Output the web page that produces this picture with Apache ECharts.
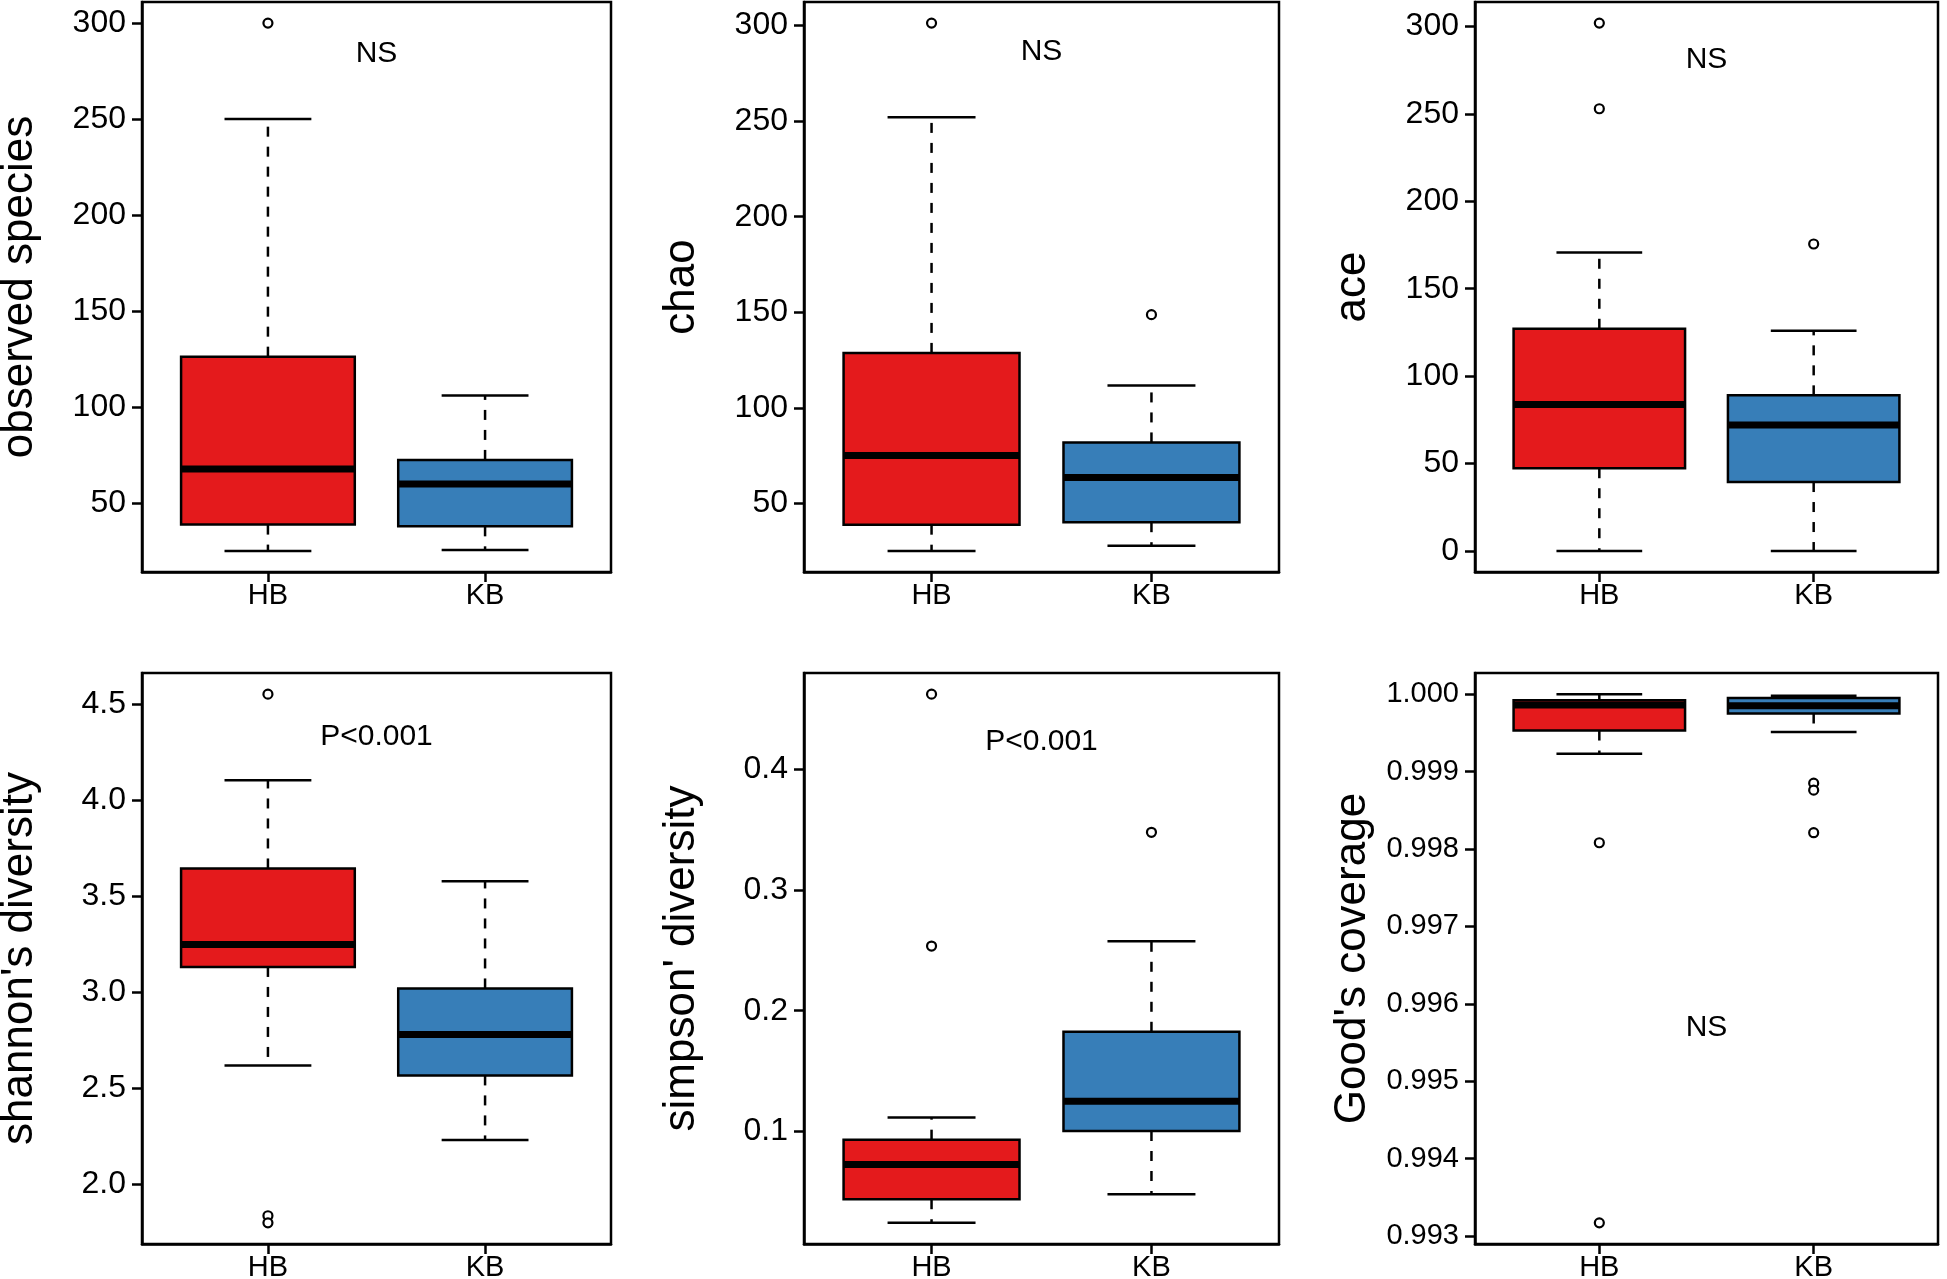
<!DOCTYPE html>
<html><head><meta charset="utf-8">
<script src="https://cdn.jsdelivr.net/npm/echarts@6/dist/echarts.min.js"></script>
<style>html,body{margin:0;padding:0;background:#fff}#c{width:1947px;height:1279px}</style>
</head><body><div id="c"></div>
<script>
// ---------- DATA ----------
const categories = ['HB', 'KB'];
// each box: [lower whisker, Q1, median, Q3, upper whisker]
const obsHB = [25, 38.7, 67.7, 126.2, 250];
const obsKB = [25.5, 37.8, 59.9, 72.4, 106];
const obsOutHB = [300];
const obsOutKB = [];
const obsTicks = [50, 100, 150, 200, 250, 300];

const chaoHB = [25.3, 39, 75.1, 128.8, 252];
const chaoKB = [28, 40.3, 63.7, 82, 111.7];
const chaoOutHB = [301.2];
const chaoOutKB = [148.8];
const chaoTicks = [50, 100, 150, 200, 250, 300];

const aceHB = [0, 47.3, 83.8, 127.1, 170.7];
const aceKB = [0, 39.4, 72, 89, 126];
const aceOutHB = [302, 253];
const aceOutKB = [175.6];
const aceTicks = [0, 50, 100, 150, 200, 250, 300];

const shanHB = [2.619, 3.133, 3.25, 3.646, 4.106];
const shanKB = [2.231, 2.568, 2.781, 3.021, 3.58];
const shanOutHB = [4.554, 1.837, 1.80];
const shanOutKB = [];
const shanTicks = [2.0, 2.5, 3.0, 3.5, 4.0, 4.5];

const simpHB = [0.024, 0.0436, 0.0724, 0.093, 0.1115];
const simpKB = [0.0477, 0.1002, 0.1249, 0.1825, 0.2576];
const simpOutHB = [0.4626, 0.2536];
const simpOutKB = [0.348];
const simpTicks = [0.1, 0.2, 0.3, 0.4];

const goodHB = [0.99923, 0.99953, 0.99986, 0.99992, 1.0000];
const goodKB = [0.99951, 0.99975, 0.99985, 0.99995, 0.99998];
const goodOutHB = [0.99808, 0.99317];
const goodOutKB = [0.99885, 0.99876, 0.99821];
const goodTicks = [0.993, 0.994, 0.995, 0.996, 0.997, 0.998, 0.999, 1.000];

const yTitles = ['observed species', 'chao', 'ace', "shannon's diversity", "simpson' diversity", "Good's coverage"];
const noteText = ['NS', 'NS', 'NS', 'P<0.001', 'P<0.001', 'NS'];
const noteY = [284, 286, 281, 4.333, 0.4232, 0.99569];

// ---------- STYLE / LAYOUT ----------
const boxColors = ['#E41A1C', '#377EB8'];
const FONT = 'Liberation Sans, Arial, Helvetica, sans-serif';
const gridPos = [
  [142, 2, 469, 570], [804, 2, 475, 570], [1475, 2, 463, 570],
  [142, 673, 469, 571], [804, 673, 475, 571], [1475, 673, 463, 571]
];
const fmts = [
  v => String(v), v => String(v), v => String(v),
  v => v.toFixed(1), v => String(+v.toFixed(1)), v => v.toFixed(3)
];

const panels = [
  { box: [obsHB, obsKB], out: [obsOutHB, obsOutKB], ticks: obsTicks },
  { box: [chaoHB, chaoKB], out: [chaoOutHB, chaoOutKB], ticks: chaoTicks },
  { box: [aceHB, aceKB], out: [aceOutHB, aceOutKB], ticks: aceTicks },
  { box: [shanHB, shanKB], out: [shanOutHB, shanOutKB], ticks: shanTicks },
  { box: [simpHB, simpKB], out: [simpOutHB, simpOutKB], ticks: simpTicks },
  { box: [goodHB, goodKB], out: [goodOutHB, goodOutKB], ticks: goodTicks }
];

function rangeOf(p) {
  const all = [].concat(p.box[0], p.box[1], p.out[0], p.out[1]);
  const lo = Math.min.apply(null, all), hi = Math.max.apply(null, all);
  const d = (hi - lo) * 0.04;
  return [lo - d, hi + d];
}

function renderBox(params, api) {
  const x = api.value(0);
  const p = [1, 2, 3, 4, 5].map(i => api.coord([x, api.value(i)]));
  const cx = p[0][0];
  const bw = api.size([0.8, 0])[0] / 2;
  const cw = api.size([0.4, 0])[0] / 2;
  const lw = 2.5;
  const blk = '#000';
  return {
    type: 'group', children: [
      { type: 'line', shape: { x1: cx, y1: p[3][1], x2: cx, y2: p[4][1] }, style: { stroke: blk, lineWidth: lw, lineDash: [10, 10] } },
      { type: 'line', shape: { x1: cx, y1: p[1][1], x2: cx, y2: p[0][1] }, style: { stroke: blk, lineWidth: lw, lineDash: [10, 10] } },
      { type: 'line', shape: { x1: cx - cw, y1: p[4][1], x2: cx + cw, y2: p[4][1] }, style: { stroke: blk, lineWidth: lw } },
      { type: 'line', shape: { x1: cx - cw, y1: p[0][1], x2: cx + cw, y2: p[0][1] }, style: { stroke: blk, lineWidth: lw } },
      { type: 'rect', shape: { x: cx - bw, y: p[3][1], width: 2 * bw, height: p[1][1] - p[3][1] }, style: { fill: boxColors[params.dataIndex], stroke: blk, lineWidth: lw } },
      { type: 'line', shape: { x1: cx - bw, y1: p[2][1], x2: cx + bw, y2: p[2][1] }, style: { stroke: blk, lineWidth: 7 } }
    ]
  };
}

const grid = [], xAxis = [], yAxis = [], series = [];
panels.forEach((p, i) => {
  const g = gridPos[i];
  grid.push({ left: g[0], top: g[1], width: g[2], height: g[3], containLabel: false, outerBoundsMode: 'none', show: true, borderColor: '#000', borderWidth: 2.5, backgroundColor: 'transparent' });
  xAxis.push({
    type: 'value', gridIndex: i, min: 0.42, max: 2.58,
    axisLine: { show: true, onZero: false, lineStyle: { color: '#000', width: 2.5 } },
    axisTick: { show: true, customValues: [1, 2], length: 10, inside: false, lineStyle: { color: '#000', width: 2.5 } },
    axisLabel: { show: true, customValues: [1, 2], formatter: v => categories[Math.round(v) - 1], fontSize: 29, fontFamily: FONT, color: '#000', margin: 9 },
    splitLine: { show: false }
  });
  const r = rangeOf(p);
  yAxis.push({
    type: 'value', gridIndex: i, min: r[0], max: r[1],
    name: yTitles[i], nameLocation: 'middle', nameRotate: 90, nameGap: 100,
    nameTextStyle: { fontSize: 44, fontFamily: FONT, color: '#000' },
    axisLine: { show: true, onZero: false, lineStyle: { color: '#000', width: 2.5 } },
    axisTick: { show: true, customValues: p.ticks, length: 10, inside: false, lineStyle: { color: '#000', width: 2.5 } },
    axisLabel: { show: true, customValues: p.ticks, formatter: fmts[i], fontSize: i === 5 ? 29 : 32, fontFamily: FONT, color: '#000', margin: 16 },
    splitLine: { show: false }
  });
  series.push({
    type: 'custom', xAxisIndex: i, yAxisIndex: i,
    data: p.box.map((b, k) => [k + 1].concat(b)),
    encode: { x: 0, y: [1, 2, 3, 4, 5] },
    renderItem: renderBox, silent: true
  });
  const outs = [];
  p.out.forEach((arr, k) => arr.forEach(v => outs.push([k + 1, v])));
  series.push({
    type: 'scatter', xAxisIndex: i, yAxisIndex: i, data: outs,
    symbol: 'circle', symbolSize: 9,
    itemStyle: { color: '#fff', borderColor: '#000', borderWidth: 2.2, opacity: 1 },
    silent: true, z: 5
  });
  series.push({
    type: 'custom', xAxisIndex: i, yAxisIndex: i,
    data: [[1.5, noteY[i]]],
    renderItem: (params, api) => {
      const c = api.coord([api.value(0), api.value(1)]);
      return { type: 'text', x: c[0], y: c[1], style: { text: noteText[i], fill: '#000', fontSize: 30, fontFamily: FONT, align: 'center', verticalAlign: 'middle' } };
    },
    silent: true
  });
});

const chart = echarts.init(document.getElementById('c'), null, { renderer: 'canvas' });
chart.setOption({ animation: false, backgroundColor: '#fff', grid, xAxis, yAxis, series });
</script>
</body></html>
